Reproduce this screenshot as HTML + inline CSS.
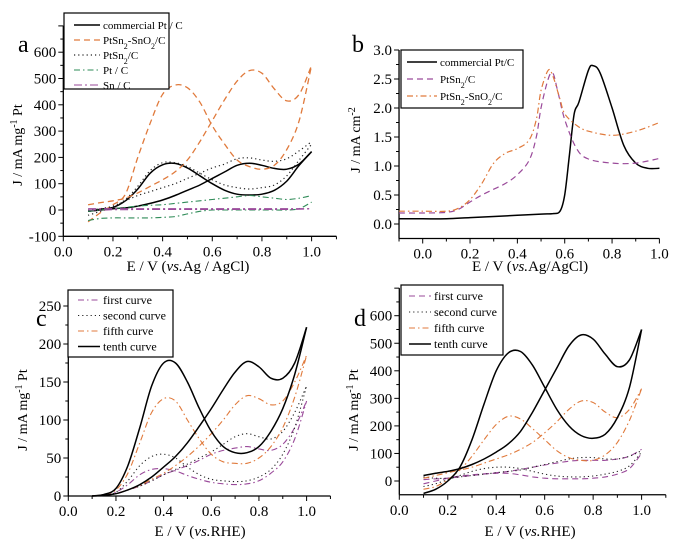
<!DOCTYPE html>
<html><head><meta charset="utf-8"><style>
html,body{margin:0;padding:0;background:#fff;}
svg{display:block;font-family:"Liberation Serif",serif;}
</style></head><body>
<svg id="fig" width="676" height="543" viewBox="0 0 676 543"></svg>
<script>
// ---- shared potential grid (V) for CV panels a, c, d ----
const gridE = [0.1,0.15,0.2,0.25,0.3,0.35,0.4,0.45,0.5,0.55,0.6,0.65,0.7,0.75,0.8,0.85,0.9,0.95,1.0];
// ---- panel a ----
const aPtFwd = [-5,0,5,8,15,25,38,55,75,95,120,145,170,178,170,158,155,175,222];
const aPtBwd = [-5,3,10,35,80,140,172,177,160,130,100,75,60,57,60,75,110,170,222];
const aPSOFwd = [20,28,35,45,65,90,115,145,190,260,340,420,490,530,520,460,415,440,550];
const aPSOBwd = [-45,-10,20,60,200,330,440,475,465,410,320,250,190,165,155,170,230,340,550];
const aPSFwd = [0,5,15,35,55,70,85,100,120,140,160,175,195,198,190,185,195,225,260];
const aPSBwd = [-20,-5,10,40,90,150,180,180,165,140,115,95,85,80,85,95,130,190,250];
const aPtCLow = [-40,-32,-30,-30,-30,-30,-28,-25,-15,-5,0,0,0,0,0,0,0,5,30];
const aPtCHigh = [-5,0,5,10,15,18,20,25,30,35,40,45,50,55,50,45,40,45,55];
const aSnLow = [0,0,1,1,2,2,2,2,2,2,2,2,2,2,2,2,2,3,5];
const aSnHigh = [5,5,5,5,5,5,5,5,5,5,5,5,5,5,5,5,5,5,5];
// ---- panel b ----
const bPtE = [-0.1,0.0,0.1,0.2,0.3,0.4,0.5,0.55,0.58,0.6,0.62,0.64,0.66,0.7,0.72,0.75,0.8,0.85,0.9,0.95,1.0];
const bPtJ = [0.09,0.09,0.09,0.11,0.13,0.15,0.17,0.18,0.22,0.5,1.2,1.9,2.1,2.65,2.73,2.6,2.0,1.35,1.05,0.96,0.96];
const bPSE = [-0.1,0.0,0.1,0.15,0.2,0.25,0.3,0.35,0.4,0.45,0.48,0.5,0.53,0.55,0.57,0.6,0.65,0.7,0.8,0.9,1.0];
const bPSJ = [0.19,0.19,0.2,0.25,0.38,0.5,0.6,0.7,0.85,1.1,1.5,2.0,2.5,2.6,2.3,1.8,1.3,1.12,1.05,1.05,1.13];
const bPSOE = [-0.1,0.0,0.1,0.15,0.2,0.25,0.3,0.35,0.4,0.45,0.48,0.5,0.53,0.55,0.58,0.6,0.65,0.7,0.8,0.9,1.0];
const bPSOJ = [0.22,0.22,0.22,0.27,0.42,0.7,1.05,1.22,1.3,1.45,1.8,2.3,2.65,2.55,2.15,1.9,1.7,1.6,1.53,1.6,1.75];
// ---- panel c ----
const cTenthFwd = [0,1,3,8,15,25,38,52,70,92,115,140,163,177,170,155,155,175,222];
const cTenthBwd = [0,2,10,40,90,145,175,175,150,115,85,65,57,57,65,85,115,160,222];
const cFifthFwd = [0,1,3,8,14,22,30,40,52,66,82,100,120,132,128,120,125,150,185];
const cFifthBwd = [0,2,8,30,70,110,128,125,100,75,55,45,43,43,50,65,90,130,185];
const cSecondFwd = [0,1,3,8,13,20,28,35,42,50,58,68,78,82,78,75,85,110,145];
const cSecondBwd = [0,1,5,20,40,52,55,50,38,28,22,20,19,20,25,35,55,90,145];
const cFirstFwd = [0,1,3,8,13,20,28,34,40,47,55,60,63,65,62,60,68,90,125];
const cFirstBwd = [0,1,5,15,28,35,36,33,27,22,18,16,15,16,20,30,45,75,125];
// ---- panel d ----
const dTenthA = [-45,-30,0,50,150,280,400,465,470,420,340,260,200,165,155,170,230,340,550];
const dTenthB = [20,28,35,45,60,80,105,135,180,250,330,410,490,530,515,460,415,440,550];
const dFifthA = [-30,-20,5,40,90,150,205,235,225,190,150,110,85,75,75,95,140,220,335];
const dFifthB = [10,20,30,40,50,65,80,95,115,140,175,215,260,290,285,250,230,260,335];
const dSecondA = [-20,-10,5,20,35,45,50,50,45,35,25,18,15,15,18,25,35,55,105];
const dSecondB = [15,10,10,15,20,25,30,35,40,50,60,70,80,85,85,80,80,90,110];
const dFirstA = [-10,0,10,18,22,26,28,28,22,15,10,8,8,8,10,15,25,45,100];
const dFirstB = [5,8,10,15,20,25,30,35,42,50,58,65,72,75,75,75,80,90,115];

const NS='http://www.w3.org/2000/svg';
const svg=document.getElementById('fig');
function mk(tag,attrs,parent){const e=document.createElementNS(NS,tag);for(const k in attrs)e.setAttribute(k,attrs[k]);(parent||svg).appendChild(e);return e;}
const BLACK='#000',ORANGE='#e07a3c',GREEN='#2e8b57',PURPLE='#9a4a9a',DARK='#222';
const DASH='6,4',DOT='1.2,3',DASHDOT='6,3,1.5,3';

function smoothPath(pts){
  let d='M'+pts[0][0].toFixed(1)+','+pts[0][1].toFixed(1);
  for(let i=0;i<pts.length-1;i++){
    const p0=pts[Math.max(0,i-1)],p1=pts[i],p2=pts[i+1],p3=pts[Math.min(pts.length-1,i+2)];
    const c1=[p1[0]+(p2[0]-p0[0])/6,p1[1]+(p2[1]-p0[1])/6];
    const c2=[p2[0]-(p3[0]-p1[0])/6,p2[1]-(p3[1]-p1[1])/6];
    d+=' C'+c1[0].toFixed(1)+','+c1[1].toFixed(1)+' '+c2[0].toFixed(1)+','+c2[1].toFixed(1)+' '+p2[0].toFixed(1)+','+p2[1].toFixed(1);
  }
  return d;
}

function panel(c){
  const g=mk('g',{});
  
  
  const X=v=>c.x0+(v-c.xv0)*c.xs, Y=v=>c.y0-(v-c.yv0)*c.ys;
  const xa=mk('line',{x1:X(c.xmin),y1:Y(c.ymin),x2:X(c.xmax),y2:Y(c.ymin),stroke:'#000','stroke-width':1.3},g);
  
  
  const ya=mk('line',{x1:X(c.xmin),y1:Y(c.ymin),x2:X(c.xmin),y2:Y(c.ymax),stroke:'#000','stroke-width':1.3},g);
  
  
  for(let k=0;;k++){const v=+(c.xt0+k*c.xminor).toFixed(4);if(v>c.xmax+1e-9)break;if(v<c.xmin-1e-9)continue;
    const major=Math.abs(Math.round(v/c.xmajor)*c.xmajor-v)<1e-6;
    mk('line',{x1:X(v),y1:Y(c.ymin),x2:X(v),y2:Y(c.ymin)+(major?5:3),stroke:'#000','stroke-width':1},g);
    if(major&&v<=c.xlabMax+1e-9){const t=mk('text',{x:X(v),y:Y(c.ymin)+20,'text-anchor':'middle','font-size':15},g);t.textContent=v.toFixed(1);
      
      }
  }
  for(let k=0;;k++){const v=+(c.yt0+k*c.yminor).toFixed(4);if(v>c.ymax+1e-9)break;if(v<c.ymin-1e-9)continue;
    const major=Math.abs(Math.round((v-c.yt0)/c.ymajor)*c.ymajor-(v-c.yt0))<1e-6;
    mk('line',{x1:X(c.xmin),y1:Y(v),x2:X(c.xmin)-(major?5:3),y2:Y(v),stroke:'#000','stroke-width':1},g);
    if(major&&v<=c.ylabMax+1e-9){const t=mk('text',{x:X(c.xmin)-7,y:Y(v)+5,'text-anchor':'end','font-size':15},g);t.textContent=c.yfmt(v);
      
      }
  }
  c.series.forEach(s=>{
    s.branches.forEach(b=>{
      const pts=b.E.map((e,i)=>[X(e),Y(b.J[i])]);
      const p=mk('path',{d:smoothPath(pts),fill:'none',stroke:s.color,'stroke-width':s.w||1.1,'stroke-dasharray':s.dash||'none'},g);
      
      
    });
  });
  const L=c.legend;
  const lb=mk('rect',{x:L.x,y:L.y,width:L.w,height:L.h,fill:'#fff',stroke:'#000','stroke-width':1.2},g);
  
  
  c.series.filter(s=>s.label).forEach((s,i)=>{
    const yy=L.y+L.top+i*L.step;
    mk('line',{x1:L.x+L.sx,y1:yy,x2:L.x+L.sx+L.sl,y2:yy,stroke:s.color,'stroke-width':s.w||1.1,'stroke-dasharray':s.dash||'none'},g);
    const t=mk('text',{x:L.x+L.sx+L.sl+3,y:yy+4,'font-size':L.fs},g);
    t.innerHTML=s.label;
    
    
  });
  const pl=mk('text',{x:c.letter[0],y:c.letter[1],'font-size':24},g);pl.textContent=c.id;
  
  
  const xt=mk('text',{x:c.xtitle[0],y:c.xtitle[1],'text-anchor':'middle','font-size':15},g);
  xt.innerHTML=c.xtitleText;
  
  
  const yt=mk('text',{x:0,y:0,'text-anchor':'middle','font-size':14,transform:'translate('+c.ytitle[0]+','+c.ytitle[1]+') rotate(-90)'},g);
  yt.innerHTML=c.ytitleText;
  
  
}
function br(a,b){return [{E:gridE,J:a},{E:gridE,J:b}];}
const yMass='J / mA mg<tspan baseline-shift="super" font-size="10">-1</tspan> Pt';

panel({id:'a',x0:63.3,xv0:0,xs:248.3,y0:210,yv0:0,ys:0.263,xmin:0,xmax:1.1,ymin:-100,ymax:700,
  xt0:0,xminor:0.1,xmajor:0.2,xlabMax:1.0,yt0:-100,yminor:50,ymajor:100,ylabMax:600,yfmt:v=>String(v),
  letter:[18,52],xtitle:[188,271],xtitleText:'E / V (<tspan font-style="italic">vs.</tspan>Ag / AgCl)',
  ytitle:[22,145],ytitleText:yMass,
  legend:{x:64,y:13,w:105,h:76,top:12,step:15,sx:10,sl:26,fs:11},
  series:[
    {key:'commercial-pt-c',label:'commercial Pt / C',color:BLACK,w:1.5,branches:br(aPtFwd,aPtBwd)},
    {key:'ptsn2-sno2-c',label:'PtSn<tspan baseline-shift="sub" font-size="8">2</tspan>-SnO<tspan baseline-shift="sub" font-size="8">2</tspan>/C',color:ORANGE,dash:DASH,w:1.3,branches:br(aPSOFwd,aPSOBwd)},
    {key:'ptsn2-c',label:'PtSn<tspan baseline-shift="sub" font-size="8">2</tspan>/C',color:DARK,dash:DOT,w:1.2,branches:br(aPSFwd,aPSBwd)},
    {key:'pt-c',label:'Pt / C',color:GREEN,dash:DASHDOT,branches:br(aPtCLow,aPtCHigh)},
    {key:'sn-c',label:'Sn / C',color:PURPLE,dash:'8,3,2,3',branches:br(aSnLow,aSnHigh)}
  ]});

panel({id:'b',x0:422.7,xv0:0,xs:236.7,y0:224,yv0:0,ys:58,xmin:-0.1,xmax:1.0,ymin:-0.25,ymax:3.0,
  xt0:-0.1,xminor:0.1,xmajor:0.2,xlabMax:1.0,yt0:0,yminor:0.25,ymajor:0.5,ylabMax:3.0,yfmt:v=>v.toFixed(1),
  letter:[352,52],xtitle:[530,271],xtitleText:'E / V (<tspan font-style="italic">vs.</tspan>Ag/AgCl)',
  ytitle:[360,140],ytitleText:'J / mA cm<tspan baseline-shift="super" font-size="10">-2</tspan>',
  legend:{x:401,y:50,w:122,h:58,top:12,step:17,sx:6,sl:30,fs:11},
  series:[
    {key:'commercial-pt-c',label:'commercial Pt/C',color:BLACK,w:1.5,branches:[{E:bPtE,J:bPtJ}]},
    {key:'ptsn2-c',label:'PtSn<tspan baseline-shift="sub" font-size="8">2</tspan>/C',color:PURPLE,dash:DASH,w:1.2,branches:[{E:bPSE,J:bPSJ}]},
    {key:'ptsn2-sno2-c',label:'PtSn<tspan baseline-shift="sub" font-size="8">2</tspan>-SnO<tspan baseline-shift="sub" font-size="8">2</tspan>/C',color:ORANGE,dash:DASHDOT,w:1.2,branches:[{E:bPSOE,J:bPSOJ}]}
  ]});

panel({id:'c',x0:68.3,xv0:0,xs:238.3,y0:496,yv0:0,ys:0.76,xmin:0,xmax:1.1,ymin:0,ymax:270,
  xt0:0,xminor:0.1,xmajor:0.2,xlabMax:1.0,yt0:0,yminor:25,ymajor:50,ylabMax:250,yfmt:v=>String(v),
  letter:[36,326],xtitle:[200,536],xtitleText:'E / V (<tspan font-style="italic">vs.</tspan>RHE)',
  ytitle:[27,410],ytitleText:yMass,
  legend:{x:68,y:290,w:105,h:67,top:10,step:15.5,sx:10,sl:22,fs:12},
  series:[
    {key:'first-curve',label:'first curve',color:PURPLE,dash:DASHDOT,branches:br(cFirstFwd,cFirstBwd)},
    {key:'second-curve',label:'second curve',color:DARK,dash:DOT,branches:br(cSecondFwd,cSecondBwd)},
    {key:'fifth-curve',label:'fifth curve',color:ORANGE,dash:DASHDOT,branches:br(cFifthFwd,cFifthBwd)},
    {key:'tenth-curve',label:'tenth curve',color:BLACK,w:1.5,branches:br(cTenthFwd,cTenthBwd)}
  ]});

panel({id:'d',x0:399.3,xv0:0,xs:242.3,y0:481,yv0:0,ys:0.2755,xmin:0,xmax:1.1,ymin:-50,ymax:700,
  xt0:0,xminor:0.1,xmajor:0.2,xlabMax:1.0,yt0:0,yminor:50,ymajor:100,ylabMax:600,yfmt:v=>String(v),
  letter:[354,326],xtitle:[530,536],xtitleText:'E / V (<tspan font-style="italic">vs.</tspan>RHE)',
  ytitle:[358,410],ytitleText:yMass,
  legend:{x:401,y:285,w:102,h:70,top:11,step:16,sx:8,sl:22,fs:12},
  series:[
    {key:'first-curve',label:'first curve',color:PURPLE,dash:DASH,branches:br(dFirstA,dFirstB)},
    {key:'second-curve',label:'second curve',color:DARK,dash:DOT,branches:br(dSecondA,dSecondB)},
    {key:'fifth-curve',label:'fifth curve',color:ORANGE,dash:DASHDOT,branches:br(dFifthA,dFifthB)},
    {key:'tenth-curve',label:'tenth curve',color:BLACK,w:1.5,branches:br(dTenthA,dTenthB)}
  ]});
</script>
</body></html>
